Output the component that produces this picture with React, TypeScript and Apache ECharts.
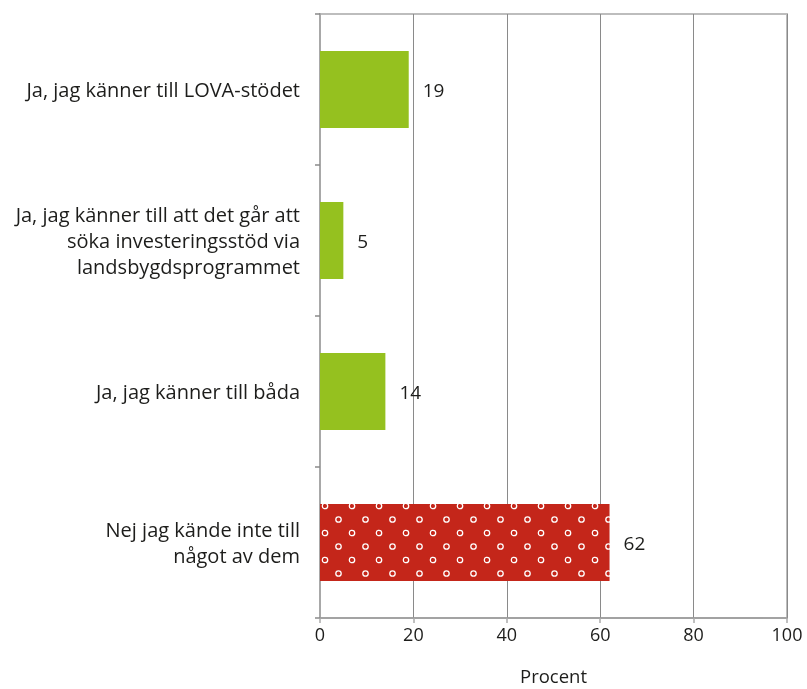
import React, { useEffect, useRef } from "react";
import * as echarts from "echarts";

const categories = [
  "Ja, jag känner till LOVA-stödet",
  "Ja, jag känner till att det går att\nsöka investeringsstöd via\nlandsbygdsprogrammet",
  "Ja, jag känner till båda",
  "Nej jag kände inte till\nnågot av dem",
];
const values = [19, 5, 14, 62];
const xTicks = [0, 20, 40, 60, 80, 100];

const GREEN = "#95C11F";
const RED = "#C4261A";
const FONT = "'Open Sans', sans-serif";

function makePattern(): HTMLCanvasElement {
  const c = document.createElement("canvas");
  c.width = 27;
  c.height = 27;
  const ctx = c.getContext("2d")!;
  ctx.fillStyle = RED;
  ctx.fillRect(0, 0, 27, 27);
  ctx.strokeStyle = "#ffffff";
  ctx.lineWidth = 1.3;
  const pts = [
    [1, 20],
    [14.5, 6.5],
  ];
  for (const [px, py] of pts) {
    for (const dx of [-27, 0, 27]) {
      for (const dy of [-27, 0, 27]) {
        ctx.beginPath();
        ctx.arc(px + dx, py + dy, 2.7, 0, Math.PI * 2);
        ctx.stroke();
      }
    }
  }
  return c;
}

export default function App() {
  const ref = useRef<HTMLDivElement>(null);
  useEffect(() => {
    if (!ref.current) return;
    const chart = echarts.init(ref.current, undefined, { renderer: "svg" });
    const pattern = makePattern();
    chart.setOption({
      animation: false,
      textStyle: { fontFamily: FONT },
      grid: {
        left: 320,
        right: 20,
        top: 14,
        bottom: 71,
        outerBoundsMode: "none",
        containLabel: false,
        show: true,
        borderColor: "#bdbdbd",
        borderWidth: 2,
        backgroundColor: "transparent",
      },
      xAxis: {
        type: "value",
        min: 0,
        max: 100,
        interval: 20,
        position: "bottom",
        name: "Procent",
        nameLocation: "middle",
        nameGap: 48,
        nameTextStyle: { fontSize: 18.5, lineHeight: 18, color: "#1d1d1b", fontFamily: FONT },
        axisLine: { show: true, lineStyle: { color: "#9a9a9a", width: 1.5 } },
        axisTick: { show: true, length: 5, lineStyle: { color: "#aaaaaa", width: 1.5 } },
        axisLabel: {
          fontSize: 18,
          color: "#1d1d1b",
          margin: 7,
          fontFamily: FONT,
          formatter: (v: number) => (xTicks.includes(v) ? String(v) : ""),
        },
        splitLine: { show: true, lineStyle: { color: "#8a8a8a", width: 1 } },
      },
      yAxis: {
        type: "category",
        data: categories,
        inverse: true,
        axisLine: { show: true, lineStyle: { color: "#a8a8a8", width: 2 } },
        axisTick: { show: true, length: 5, lineStyle: { color: "#8a8a8a", width: 1.5 } },
        axisLabel: {
          fontSize: 20,
          lineHeight: 26,
          color: "#1d1d1b",
          margin: 20,
          align: "right",
          fontFamily: FONT,
        },
      },
      series: [
        {
          type: "bar",
          barWidth: 77,
          data: values.map((v, i) => ({
            value: v,
            itemStyle: {
              color: i === 3 ? { image: pattern, repeat: "repeat" } : GREEN,
            },
          })),
          label: {
            show: true,
            position: "right",
            distance: 14,
            fontSize: 19,
            color: "#1d1d1b",
            fontFamily: FONT,
          },
        },
      ],
    });
    return () => chart.dispose();
  }, []);
  return (
    <div
      ref={ref}
      style={{ position: "fixed", left: 0, top: 0, width: 807, height: 689 }}
    />
  );
}
